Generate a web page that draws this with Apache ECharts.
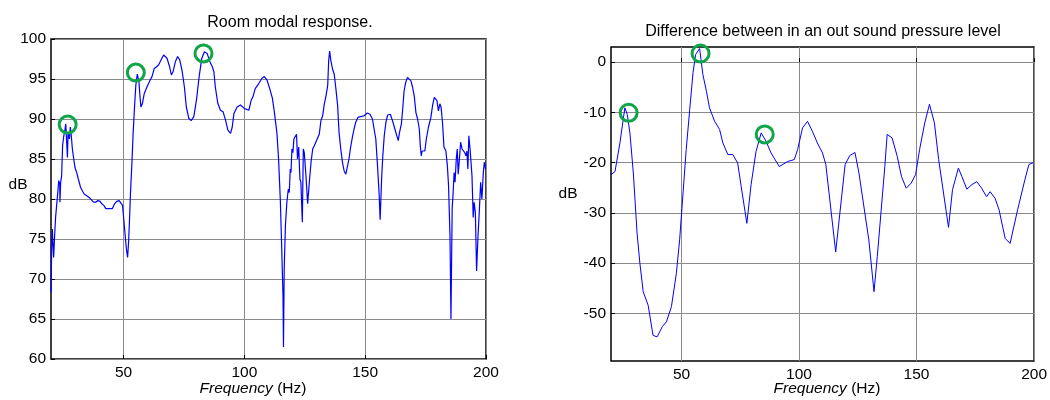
<!DOCTYPE html>
<html><head><meta charset="utf-8">
<script src="https://cdn.jsdelivr.net/npm/echarts@6/dist/echarts.min.js"></script>
<style>html,body{margin:0;padding:0;background:#fff}#c{width:1050px;height:400px}</style>
</head><body><div id="c"></div>
<script>
// ---- Room modal response (left) ----
const roomFreq = [20.0,20.3,20.55,20.8,21.1,21.5,21.9,22.35,22.8,23.2,23.6,23.7,24.0,24.4,24.8,25.3,25.7,26.1,26.5,26.8,27.05,27.3,27.6,28.0,28.4,28.85,29.4,29.95,30.65,31.3,32.2,33.0,33.8,34.8,35.8,36.6,37.6,38.5,39.4,40.3,41.0,41.85,42.7,43.5,44.5,45.4,46.3,47.2,48.2,49.0,49.6,50.1,50.7,51.2,51.7,52.1,52.5,52.9,53.5,54.0,54.6,55.1,55.7,55.9,56.4,56.8,57.2,57.8,58.6,59.7,61.1,61.8,62.7,63.6,64.5,65.9,66.6,68.0,69.1,69.8,70.5,71.5,72.4,73.25,74.2,75.2,76.0,77.0,78.0,79.1,80.2,81.3,82.4,83.5,84.6,85.7,86.8,87.4,88.0,89.0,90.1,91.2,92.2,93.2,94.3,95.0,95.7,97.0,98.4,100.1,101.9,102.8,103.6,104.5,105.9,107.3,108.3,109.4,110.5,111.6,112.5,113.5,114.2,114.9,115.4,116.0,116.2,116.5,117.0,117.6,118.2,118.6,119.0,119.3,119.7,120.1,120.5,121.1,121.6,122.0,122.5,123.0,123.4,124.0,124.4,124.8,125.5,126.2,126.9,127.6,128.3,129.0,129.7,130.3,131.0,131.7,132.4,133.1,133.8,134.5,134.9,135.3,135.8,136.5,137.2,137.9,138.6,139.2,139.9,140.6,141.3,142.0,142.6,143.3,144.0,144.7,145.4,146.1,147.0,148.1,149.5,150.9,152.0,153.0,153.7,154.4,155.1,155.8,156.2,156.8,157.3,157.9,158.6,159.3,160.4,161.3,162.3,163.1,163.7,164.2,165.0,165.6,166.1,166.8,167.5,168.2,168.9,169.6,170.3,171.0,171.7,172.4,172.8,173.2,173.6,174.2,174.7,175.3,175.8,176.2,176.8,177.2,177.9,178.6,179.2,179.7,180.3,180.9,181.4,182.0,182.6,183.4,184.0,184.5,185.1,185.5,186.0,186.4,186.8,187.2,187.7,188.1,188.5,189.1,189.5,190.1,190.6,191.2,191.7,192.1,192.5,192.9,193.4,193.8,194.2,194.7,195.1,195.6,196.1,196.7,197.2,197.8,198.3,198.9,199.3,199.8];
const roomDb = [68.3,73.75,76.25,74.6,72.7,75.4,77.7,77.9,80.8,82.3,81.9,79.6,82.1,82.9,86.7,87.9,88.5,89.4,89.5,85.2,88.3,88.5,87.5,89.0,87.9,86.25,85.0,83.9,83.3,82.5,81.5,81.0,80.6,80.4,80.2,80.0,79.6,79.6,79.8,79.7,79.4,79.2,78.8,78.75,78.8,78.8,79.4,79.7,79.8,79.7,79.2,77.5,75.4,73.75,72.7,74.6,77.5,80.8,84.6,88.3,91.7,94.2,95.6,95.75,94.6,92.9,91.5,91.9,93.2,94.0,94.9,95.3,96.3,96.5,96.75,97.6,98.0,97.6,96.5,95.5,95.9,97.2,97.8,97.4,96.1,94.0,91.5,90.1,89.8,90.3,92.4,95.3,97.6,98.4,98.2,97.2,96.5,95.9,94.0,92.0,91.1,90.9,89.9,88.6,88.2,89.0,90.7,91.5,91.75,91.3,91.1,92.3,92.8,93.8,94.4,95.1,95.3,94.85,93.8,92.6,90.7,88.2,84.8,79.8,74.6,67.9,61.5,71.25,76.7,79.6,81.25,80.8,83.75,83.3,86.25,85.8,87.5,87.3,88.1,85.0,86.5,82.5,82.1,77.1,86.25,85.8,82.9,79.4,82.1,84.6,86.25,86.7,87.2,87.3,88.1,89.8,90.4,91.9,92.9,94.2,97.3,98.5,97.3,96.25,95.6,93.75,91.7,88.3,86.25,84.6,83.5,83.1,83.3,85.0,86.5,87.7,88.75,89.6,90.2,90.3,90.4,90.75,90.6,90.0,88.75,87.5,84.2,80.5,77.4,82.5,85.4,87.9,89.6,90.5,90.6,89.8,88.75,87.9,87.3,88.3,89.4,91.5,93.5,94.6,95.2,95.4,94.8,94.0,92.9,90.8,90.0,88.75,86.7,85.4,86.0,85.8,86.0,87.5,87.3,89.0,89.2,90.2,91.7,92.7,92.8,92.3,91.0,91.9,91.5,89.6,86.5,86.0,84.2,81.7,75.4,65.0,78.75,80.8,83.3,82.1,85.0,86.25,83.1,85.4,87.1,86.25,86.25,85.8,85.4,86.0,83.75,87.9,86.25,86.5,82.9,77.7,79.6,78.3,71.0,75.4,78.3,82.1,80.0,83.3,84.6,83.75];
const roomPeaks = [[26.9, 89.3], [55.1, 95.8], [83.1, 98.2]];
const roomYMin = 60, roomYMax = 100, roomYStep = 5;

// ---- Difference between in and out SPL (right) ----
const diffFreq = [20.0,21.7,23.8,25.9,26.9,28.05,29.5,31.1,32.3,33.7,35.8,37.9,39.6,41.9,43.6,45.7,47.8,49.2,52.0,53.5,54.9,56.0,57.7,59.1,60.6,61.9,64.1,66.2,67.6,69.7,71.8,73.9,75.4,77.8,79.6,81.7,83.9,86.0,88.1,91.6,95.1,98.0,99.4,101.5,103.6,105.7,107.8,110.0,111.4,115.6,119.6,121.6,123.8,125.5,129.7,131.9,133.3,136.5,137.5,139.6,141.8,143.6,145.6,147.7,149.6,151.3,153.5,155.5,157.6,159.4,163.6,165.3,167.8,169.3,171.4,173.5,175.6,177.7,179.8,181.3,183.4,185.1,187.7,189.8,193.0,196.1,197.8,199.7];
const diffDb = [-22.4,-21.8,-16.1,-9.1,-10.4,-14.1,-22.1,-34.1,-40.1,-45.7,-48.4,-54.4,-54.7,-52.6,-51.7,-48.7,-42.1,-35.4,-17.4,-9.4,-2.1,1.5,2.7,-2.5,-5.8,-9.1,-11.8,-13.4,-16.1,-18.4,-18.4,-20.1,-24.8,-32.1,-24.4,-17.8,-14.1,-15.8,-18.1,-20.8,-19.8,-19.4,-17.4,-13.1,-11.8,-13.8,-16.1,-18.1,-20.4,-37.8,-20.4,-18.6,-18.0,-22.1,-35.4,-45.7,-38.7,-20.8,-14.4,-15.1,-18.8,-22.8,-25.1,-24.1,-22.4,-17.4,-12.1,-8.4,-12.1,-19.4,-32.9,-25.4,-21.1,-22.8,-25.3,-24.4,-23.8,-25.1,-26.8,-25.8,-27.1,-29.4,-35.1,-36.1,-29.4,-23.4,-20.4,-20.0];
const diffPeaks = [[27.5, -10.1], [58.1, 1.7], [85.4, -14.4]];
const diffYTicks = [-50, -40, -30, -20, -10, 0];
const diffYMin = -59.5, diffYMax = 3;

// ---- shared ----
const freqTicks = [50, 100, 150, 200];
const freqMin = 20, freqMax = 200;
const titles = ['Room modal response.', 'Difference between in an out sound pressure level'];

const FONT = '"Liberation Sans", Arial, sans-serif';
const FS = 15.5;
const GRIDCOL = '#8a8a8a';
const zip = (a, b) => a.map((v, i) => [v, b[i]]);

function xAxis(gi) {
  return {
    type: 'value', gridIndex: gi, min: freqMin, max: freqMax,
    axisLine: { show: false },
    axisTick: { show: true, inside: true, length: 4, customValues: freqTicks, lineStyle: { color: '#000' } },
    axisLabel: { customValues: freqTicks, color: '#000', fontFamily: FONT, fontSize: FS, margin: 6 },
    splitLine: { show: true, lineStyle: { color: GRIDCOL, width: 1 } }
  };
}

const circleStyle = { color: 'rgba(0,0,0,0)', borderColor: '#10a548', borderWidth: 3, opacity: 1 };

const option = {
  animation: false,
  backgroundColor: '#fff',
  grid: [
    { left: 51, top: 39, width: 435, height: 320, show: true, borderColor: '#000', borderWidth: 1.5, backgroundColor: '#fff' },
    { left: 611, top: 47, width: 424, height: 314, show: true, borderColor: '#000', borderWidth: 1.5, backgroundColor: '#fff' }
  ],
  xAxis: [xAxis(0), xAxis(1)],
  yAxis: [
    { type: 'value', gridIndex: 0, min: roomYMin, max: roomYMax, interval: roomYStep,
      axisLine: { show: false },
      axisTick: { show: true, inside: true, length: 4, lineStyle: { color: '#000' } },
      axisLabel: { color: '#000', fontFamily: FONT, fontSize: FS, margin: 5 },
      splitLine: { show: true, lineStyle: { color: GRIDCOL, width: 1 } } },
    { type: 'value', gridIndex: 1, min: diffYMin, max: diffYMax,
      axisLine: { show: false },
      axisTick: { show: true, inside: true, length: 4, customValues: diffYTicks, lineStyle: { color: '#000' } },
      axisLabel: { customValues: diffYTicks, color: '#000', fontFamily: FONT, fontSize: FS, margin: 5 },
      splitLine: { show: true, lineStyle: { color: GRIDCOL, width: 1 } } }
  ],
  series: [
    { type: 'line', xAxisIndex: 0, yAxisIndex: 0, data: zip(roomFreq, roomDb), showSymbol: false,
      lineStyle: { color: '#0000ff', width: 1.2 }, z: 3 },
    { type: 'line', xAxisIndex: 1, yAxisIndex: 1, data: zip(diffFreq, diffDb), showSymbol: false,
      lineStyle: { color: '#0000ff', width: 1 }, z: 3 },
    { type: 'scatter', xAxisIndex: 0, yAxisIndex: 0, data: roomPeaks, symbol: 'circle', symbolSize: 17,
      itemStyle: circleStyle, z: 5, silent: true },
    { type: 'scatter', xAxisIndex: 1, yAxisIndex: 1, data: diffPeaks, symbol: 'circle', symbolSize: 17,
      itemStyle: circleStyle, z: 5, silent: true }
  ],
  graphic: [
    { type: 'text', x: 290, y: 23, style: { text: titles[0], fontFamily: FONT, fontSize: 16, fill: '#000', align: 'center', verticalAlign: 'middle' } },
    { type: 'text', x: 823, y: 32, style: { text: titles[1], fontFamily: FONT, fontSize: 16, fill: '#000', align: 'center', verticalAlign: 'middle' } },
    { type: 'text', x: 18, y: 185, style: { text: 'dB', fontFamily: FONT, fontSize: FS, fill: '#000', align: 'center', verticalAlign: 'middle' } },
    { type: 'text', x: 568, y: 194, style: { text: 'dB', fontFamily: FONT, fontSize: FS, fill: '#000', align: 'center', verticalAlign: 'middle' } },
    { type: 'text', x: 253, y: 389, style: { text: '{i|Frequency} (Hz)', fontFamily: FONT, fontSize: FS, fill: '#000', align: 'center', verticalAlign: 'middle',
        rich: { i: { fontStyle: 'italic', fontFamily: FONT, fontSize: FS, fill: '#000' } } } },
    { type: 'text', x: 827, y: 389, style: { text: '{i|Frequency} (Hz)', fontFamily: FONT, fontSize: FS, fill: '#000', align: 'center', verticalAlign: 'middle',
        rich: { i: { fontStyle: 'italic', fontFamily: FONT, fontSize: FS, fill: '#000' } } } }
  ]
};

const chart = echarts.init(document.getElementById('c'), null, { renderer: 'canvas' });
chart.setOption(option);
</script>
</body></html>
